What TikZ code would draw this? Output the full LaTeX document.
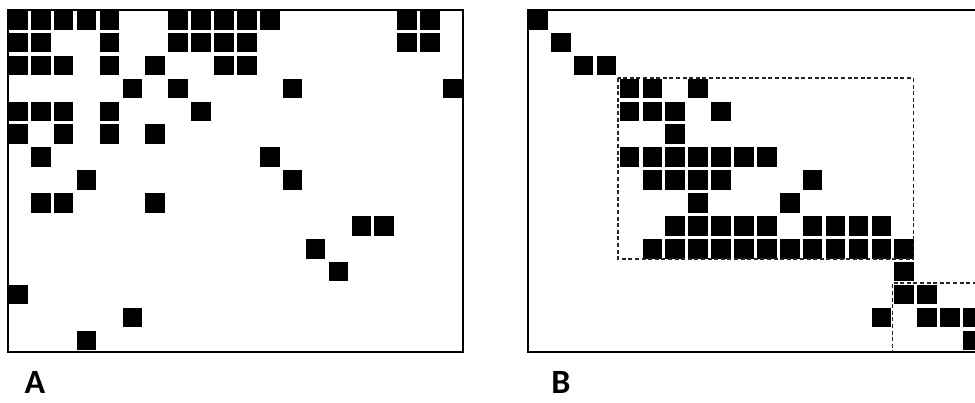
\documentclass[tikz,border=0pt]{standalone}
\usepackage{fontspec}
\setmainfont{Carlito}
\begin{document}
\begin{tikzpicture}[x=1pt,y=-1pt,
  cellbox/.style={fill=black},
  frame/.style={draw=black,line width=2.2pt},
  dashbox/.style={draw=black!85,line width=1.1pt,dash pattern=on 4pt off 2.6pt},
  lbl/.style={font=\bfseries\fontsize{34}{38}\selectfont,inner sep=0pt}]
\useasboundingbox (0,0) rectangle (975,403);
\clip (0,0) rectangle (975,403);
\def\p{22.9}
\def\s{19.6}
% ---------- Matrix A ----------
\draw[frame] (8,10) rectangle (463,352);
\foreach \r/\cols in {0/{0,1,2,3,4,7,8,9,10,11,17,18},
                      1/{0,1,4,7,8,9,10,17,18},
                      2/{0,1,2,4,6,9,10},
                      3/{5,7,12,19},
                      4/{0,1,2,4,8},
                      5/{0,2,4,6},
                      6/{1,11},
                      7/{3,12},
                      8/{1,2,6},
                      9/{15,16},
                      10/{13},
                      11/{14},
                      12/{0},
                      13/{5},
                      14/{3}} {
  \foreach \c in \cols {
    \fill[cellbox] ({8+\c*\p},{10+\r*\p}) rectangle ++(\s,\s);
  }
}
\node[lbl] (labelA) at (35,382) {A};
% ---------- Matrix B ----------
\draw[frame] (528,10) rectangle (984,352);
\foreach \r/\cols in {0/{0},
                      1/{1},
                      2/{2,3},
                      3/{4,5,7},
                      4/{4,5,6,8},
                      5/{6},
                      6/{4,5,6,7,8,9,10},
                      7/{5,6,7,8,12},
                      8/{7,11},
                      9/{6,7,8,9,10,12,13,14,15},
                      10/{5,6,7,8,9,10,11,12,13,14,15,16},
                      11/{16},
                      12/{16,17},
                      13/{15,17,18,19},
                      14/{19}} {
  \foreach \c in \cols {
    \fill[cellbox] ({528+\c*\p},{10+\r*\p}) rectangle ++(\s,\s);
  }
}
\draw[dashbox] (618,78) rectangle (913.5,259);
\draw[dashbox] (990,283) -- (892.5,283) -- (892.5,352);
\node[lbl] (labelB) at (561,382) {B};
\end{tikzpicture}
\end{document}
